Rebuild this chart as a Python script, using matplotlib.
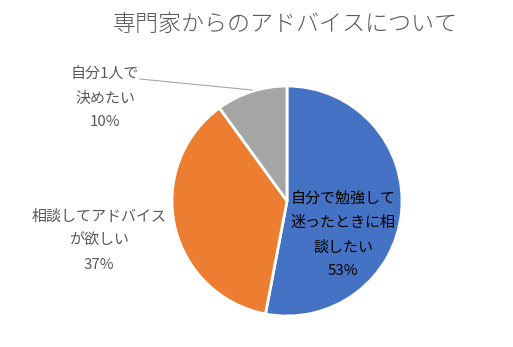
import numpy as np
import matplotlib
matplotlib.use('Agg')
import matplotlib.pyplot as plt

plt.rcParams['font.family'] = ['Noto Sans CJK JP', 'DejaVu Sans']

# data
labels = ['自分で勉強して\n迷ったときに相\n談したい', '相談してアドバイス\nが欲しい', '自分1人で\n決めたい']
values = [53, 37, 10]
colors = ['#4472C4', '#ED7D31', '#A5A5A5']

W, H = 513, 347
fig = plt.figure(figsize=(W/100, H/100), dpi=100)
ax = fig.add_axes([0, 0, 1, 1])

cx, cy, r = 287, H-201, 115
ax.pie(values, colors=colors, startangle=90, counterclock=False,
       center=(cx, cy), radius=r, frame=True,
       wedgeprops=dict(edgecolor='white', linewidth=2))
ax.set_xlim(0, W)
ax.set_ylim(0, H)
ax.set_aspect('equal')
ax.axis('off')

tot = sum(values)
pct = [f'{round(v*100/tot)}%' for v in values]

# label positions (pixels from top)
pos = [(343, 235, '#000000'), (99, 241, '#595959'), (105, 98, '#595959')]
for i, (x, y, c) in enumerate(pos):
    ax.text(x, H-y, labels[i] + '\n' + pct[i], ha='center', va='center',
            fontsize=10.8, color=c, linespacing=1.9)

# leader line for the small slice
ax.plot([140, 252], [H-79, H-90], color='#A6A6A6', lw=0.8)

fig.text(285/W, 1-24/H, '専門家からのアドバイスについて', ha='center', va='center',
         fontsize=16.6, color='#595959', fontweight='light')

fig.savefig('out.png', dpi=100)
